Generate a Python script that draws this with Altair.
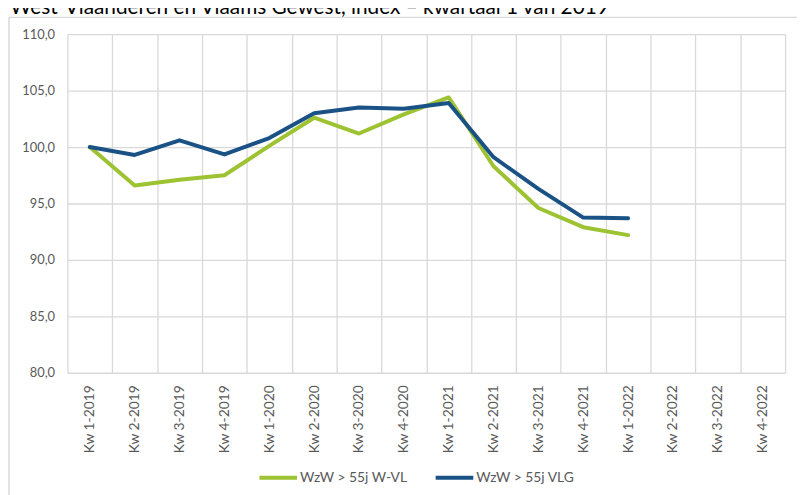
import altair as alt
import pandas as pd

quarters = ["Kw 1-2019", "Kw 2-2019", "Kw 3-2019", "Kw 4-2019",
            "Kw 1-2020", "Kw 2-2020", "Kw 3-2020", "Kw 4-2020",
            "Kw 1-2021", "Kw 2-2021", "Kw 3-2021", "Kw 4-2021",
            "Kw 1-2022", "Kw 2-2022", "Kw 3-2022", "Kw 4-2022"]
wvl = [100.0, 96.6, 97.1, 97.5, 100.1, 102.6, 101.2, 102.9,
       104.4, 98.3, 94.6, 92.9, 92.2, None, None, None]
vlg = [100.0, 99.3, 100.6, 99.35, 100.8, 103.0, 103.5, 103.4,
       103.9, 99.1, 96.3, 93.75, 93.7, None, None, None]
series_names = ["WzW > 55j W-VL", "WzW > 55j VLG"]
series_colors = ["#9DC232", "#1A5286"]
y_ticks = [80, 85, 90, 95, 100, 105, 110]
title_text = "West-Vlaanderen en Vlaams Gewest, index \u2013 kwartaal 1 van 2019"

rows = []
for name, vals in zip(series_names, [wvl, vlg]):
    for i, (q, v) in enumerate(zip(quarters, vals)):
        if v is not None:
            rows.append({"kwartaal": q, "reeks": name, "index": v, "order": i})
df = pd.DataFrame(rows)

FONT = "Lato"
GREY = "#595959"
GRID = "#D9D9D9"

lines = alt.Chart(df).mark_line(strokeWidth=4, strokeJoin="round", strokeCap="round").encode(
    x=alt.X("kwartaal:N", sort=quarters, bandPosition=0.5,
            scale=alt.Scale(type="band", domain=quarters, paddingInner=0, paddingOuter=0),
            axis=alt.Axis(title=None, labelAngle=270, tickBand="extent", ticks=False, domain=False,
                          grid=True, gridColor=GRID, gridWidth=1.3, labelPadding=12,
                          labelFont=FONT, labelFontSize=14, labelColor=GREY)),
    y=alt.Y("index:Q",
            scale=alt.Scale(domain=[80, 110], nice=False, zero=False),
            axis=alt.Axis(title=None, values=y_ticks, ticks=False, domain=False,
                          gridColor=GRID, gridWidth=1.3, labelPadding=13,
                          labelFont=FONT, labelFontSize=13, labelColor=GREY,
                          labelExpr="replace(format(datum.value, '.1f'), '.', ',')")),
    color=alt.Color("reeks:N",
                    scale=alt.Scale(domain=series_names, range=series_colors),
                    legend=alt.Legend(title=None, orient="none", legendX=192, legendY=427,
                                      direction="horizontal", symbolType="stroke",
                                      symbolSize=1444, symbolStrokeWidth=4,
                                      labelFont=FONT, labelFontSize=14, labelColor=GREY,
                                      labelOffset=1, columnPadding=20)),
    order="order:Q",
)

frame_data = alt.Data(values=[{}])
frame_left = alt.Chart(frame_data).mark_rule(color=GRID, strokeWidth=1.5).encode(
    x=alt.value(-59), y=alt.value(-17), y2=alt.value(480))
frame_top = alt.Chart(frame_data).mark_rule(color=GRID, strokeWidth=1.5).encode(
    x=alt.value(-59), x2=alt.value(760), y=alt.value(-17))
title = alt.Chart(frame_data).mark_text(
    text=title_text, align="left", baseline="alphabetic", font=FONT, fontSize=21, color="#000000"
).encode(x=alt.value(-58), y=alt.value(-20))

chart = alt.layer(frame_left, frame_top, title, lines).properties(
    width=725, height=342,
    autosize=alt.AutoSizeParams(type="none"),
    padding={"left": 60, "top": 24, "right": 12, "bottom": 121},
).configure_view(stroke=None)

chart.save("out.html", embed_options={"renderer": "svg", "actions": False})
